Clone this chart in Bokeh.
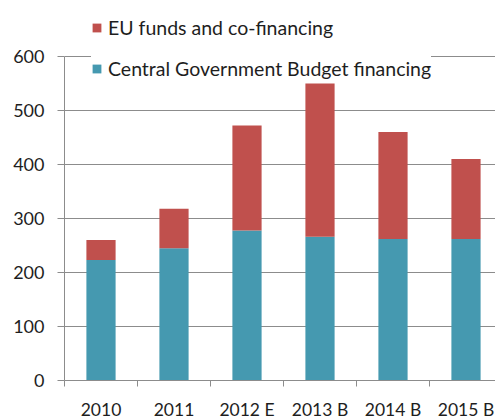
from bokeh.plotting import figure
from bokeh.models import (ColumnDataSource, Range1d, FixedTicker, Legend, LegendItem)
from bokeh.embed import file_html
from bokeh.resources import INLINE

categories = ["2010", "2011", "2012 E", "2013 B", "2014 B", "2015 B"]
central_budget = [223, 245, 278, 266, 262, 262]
eu_funds = [37, 73, 194, 284, 198, 148]
y_ticks = [0, 100, 200, 300, 400, 500, 600]

BLUE = "#4599B0"
RED = "#C0504D"
GRID = "#8C8C8C"
TEXT = "#1E1E1E"
FONT = "Lato"

FRAME_W, FRAME_H = 431, 380
PX_PER_UNIT = 324 / 600  # 0..600 spans 324px
CAT_PX = 73

xs = list(range(len(categories)))
src = ColumnDataSource(dict(x=xs, central=central_budget, eu=eu_funds))

p = figure(frame_width=FRAME_W, frame_height=FRAME_H, output_backend="svg", toolbar_location=None,
           x_range=Range1d(-0.5, -0.5 + FRAME_W / CAT_PX),
           y_range=Range1d(0, FRAME_H / PX_PER_UNIT),
           min_border_left=64, min_border_right=0, min_border_top=0, min_border_bottom=38)
p.outline_line_color = None
p.background_fill_color = "white"
p.border_fill_color = "white"

rs = p.vbar_stack(["central", "eu"], x="x", width=0.4, source=src,
                  color=[BLUE, RED], line_color=None)

# y axis
p.yaxis.ticker = FixedTicker(ticks=y_ticks, minor_ticks=[])
p.yaxis.bounds = (0, 600)
p.yaxis.axis_line_color = GRID
p.yaxis.major_tick_line_color = GRID
p.yaxis.major_tick_out = 7
p.yaxis.major_tick_in = 0
p.yaxis.minor_tick_line_color = None
p.yaxis.major_label_standoff = 13
p.yaxis.major_label_text_font = FONT
p.yaxis.major_label_text_font_size = "18px"
p.yaxis.major_label_text_color = TEXT

# x axis
p.xaxis.ticker = FixedTicker(ticks=xs, minor_ticks=[i - 0.5 for i in range(len(categories) + 1)])
p.xaxis.major_label_overrides = {i: c for i, c in enumerate(categories)}
p.xaxis.axis_line_color = GRID
p.xaxis.major_tick_line_color = None
p.xaxis.major_tick_out = 0
p.xaxis.minor_tick_line_color = GRID
p.xaxis.minor_tick_out = 6
p.xaxis.minor_tick_in = 0
p.xaxis.major_label_standoff = 12
p.xaxis.major_label_text_font = FONT
p.xaxis.major_label_text_font_size = "17.5px"
p.xaxis.major_label_text_color = TEXT

p.xgrid.grid_line_color = None
p.ygrid.grid_line_color = GRID
p.ygrid.ticker = FixedTicker(ticks=y_ticks)

legend = Legend(items=[LegendItem(label="EU funds and co-financing", renderers=[rs[1]]),
                       LegendItem(label="Central Government Budget financing", renderers=[rs[0]])],
                location=(27, 300), orientation="vertical",
                glyph_width=11, glyph_height=11, label_height=20, spacing=18,
                padding=5, margin=0, label_standoff=6,
                label_text_font=FONT, label_text_font_size="19.5px", label_text_color=TEXT,
                border_line_color=None, background_fill_color="white", background_fill_alpha=1.0)
p.add_layout(legend, "center")

open("out.html", "w").write(file_html(p, INLINE))
